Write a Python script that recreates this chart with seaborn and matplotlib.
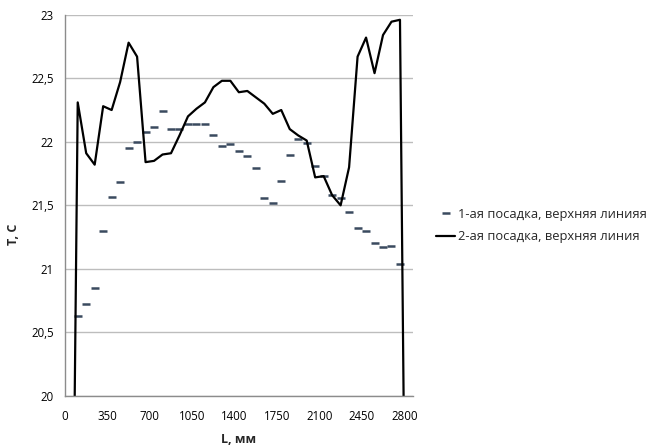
import numpy as np
import pandas as pd
import matplotlib
matplotlib.use("Agg")
import matplotlib.pyplot as plt
import seaborn as sns

# позиции по длине, мм (шаг 70 мм, центры категорий)
L_mm = [35 + 70 * i for i in range(41)]

# 1-ая посадка, верхняя линия (крайние точки отсутствуют)
t1 = [np.nan, 20.63, 20.72, 20.85, 21.30, 21.565, 21.68, 21.95, 22.00, 22.08,
      22.12, 22.24, 22.10, 22.10, 22.14, 22.14, 22.14, 22.05, 21.97, 21.98,
      21.93, 21.89, 21.79, 21.56, 21.52, 21.69, 21.90, 22.02, 21.99, 21.81,
      21.73, 21.58, 21.56, 21.45, 21.32, 21.30, 21.20, 21.17, 21.18, 21.04,
      np.nan]

# 2-ая посадка, верхняя линия
t2 = [15.8, 22.31, 21.91, 21.82, 22.28, 22.25, 22.47, 22.78, 22.67, 21.84,
      21.85, 21.90, 21.91, 22.05, 22.20, 22.26, 22.31, 22.43, 22.48, 22.48,
      22.39, 22.40, 22.35, 22.30, 22.22, 22.25, 22.10, 22.05, 22.01, 21.72,
      21.73, 21.58, 21.50, 21.80, 22.67, 22.82, 22.54, 22.84, 22.945, 22.96,
      16.0]

x_ticks = [0, 350, 700, 1050, 1400, 1750, 2100, 2450, 2800]
y_ticks = [20, 20.5, 21, 21.5, 22, 22.5, 23]

label1 = "1-ая посадка, верхняя линияя"
label2 = "2-ая посадка, верхняя линия"

df = pd.DataFrame({"L": L_mm, "t1": t1, "t2": t2})

sns.set_style("white")
plt.rcParams["font.family"] = ["Open Sans", "DejaVu Sans"]

fig = plt.figure(figsize=(6.47, 4.45), dpi=100)
ax = fig.add_axes([65 / 647, 1 - 396 / 445, 347.7 / 647, 381.3 / 445])

sns.lineplot(data=df.dropna(subset=["t1"]), x="L", y="t1", ax=ax,
             estimator=None, sort=False, linestyle="", marker="_",
             markersize=5.8, markeredgewidth=1.8, markeredgecolor="#3a4a5f",
             color="#3a4a5f", label=label1)
sns.lineplot(data=df, x="L", y="t2", ax=ax, estimator=None, sort=False,
             color="black", linewidth=1.6, label=label2)

ax.set_xlim(0, 2870)
ax.set_ylim(20, 23)
ax.set_xticks(x_ticks)
ax.set_yticks(y_ticks)
ax.set_yticklabels([("%g" % v).replace(".", ",") for v in y_ticks])

ax.grid(axis="y", color="#bdbdbd", linewidth=1)
ax.set_axisbelow(True)
for s in ["top", "right"]:
    ax.spines[s].set_visible(False)
for s in ["left", "bottom"]:
    ax.spines[s].set_color("#8c8c8c")
    ax.spines[s].set_linewidth(1)
ax.tick_params(axis="both", which="both", direction="out", length=4,
               width=1, color="#8c8c8c", labelsize=8.3, labelcolor="black", pad=4)
ax.tick_params(axis="x", pad=6)

ax.set_xlabel("L, мм", fontsize=9, fontweight="bold")
ax.set_ylabel("T, C", fontsize=9, fontweight="bold")
ax.xaxis.set_label_coords(0.5, -0.097)
ax.yaxis.set_label_coords(-0.13, 0.425)

ax.get_legend().remove()
h, l = ax.get_legend_handles_labels()
fig.legend(h, l, loc="center left", bbox_to_anchor=(0.656, 0.493),
           frameon=False, fontsize=9.3, handlelength=1.5, handletextpad=0.2,
           labelspacing=0.75)

fig.savefig("out.png", dpi=100)
